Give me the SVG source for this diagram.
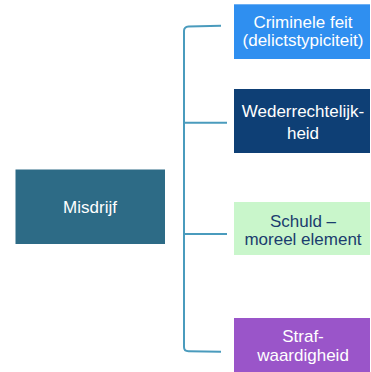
<svg xmlns="http://www.w3.org/2000/svg" width="371" height="372" viewBox="0 0 371 372">
<style>
text{font-family:"Liberation Sans",Arial,sans-serif;font-size:17px;text-anchor:middle}
.w{fill:#ffffff}
.d{fill:#1b3d6e}
.c{fill:none;stroke:#4a9bbd;stroke-width:2}
</style>
<rect width="371" height="372" fill="#ffffff"/>
<g id="connectors">
<path class="c" d="M221,25.7 L188.5,26.5 Q184,27 184,31 L184,347 Q184,351.2 188.5,351.2 L221,351.7"/>
<path class="c" d="M184,122.7 H227"/>
<path class="c" d="M184,234 H227"/>
</g>
<g id="misdrijf">
<rect x="15.5" y="169.5" width="149.5" height="74.5" fill="#2d6b86"/>
<text class="w" x="90" y="213">Misdrijf</text>
</g>
<g id="criminele-feit">
<rect x="234" y="4.3" width="136" height="54.7" fill="#2f8ff0"/>
<text class="w" x="303" y="28.3">Criminele feit</text>
<text class="w" x="303" y="45.8">(delictstypiciteit)</text>
</g>
<g id="wederrechtelijkheid">
<rect x="234" y="89" width="136" height="64" fill="#0e3f75"/>
<text class="w" x="303" y="116.5">Wederrechtelijk-</text>
<text class="w" x="303" y="139">heid</text>
</g>
<g id="schuld">
<rect x="234" y="202" width="136" height="53" fill="#c9f6cb"/>
<text class="d" x="303" y="226.7">Schuld –</text>
<text class="d" x="303" y="245">moreel element</text>
</g>
<g id="strafwaardigheid">
<rect x="234" y="318" width="136" height="54" fill="#9a55c9"/>
<text class="w" x="303" y="342.3">Straf-</text>
<text class="w" x="303" y="361">waardigheid</text>
</g>
</svg>
